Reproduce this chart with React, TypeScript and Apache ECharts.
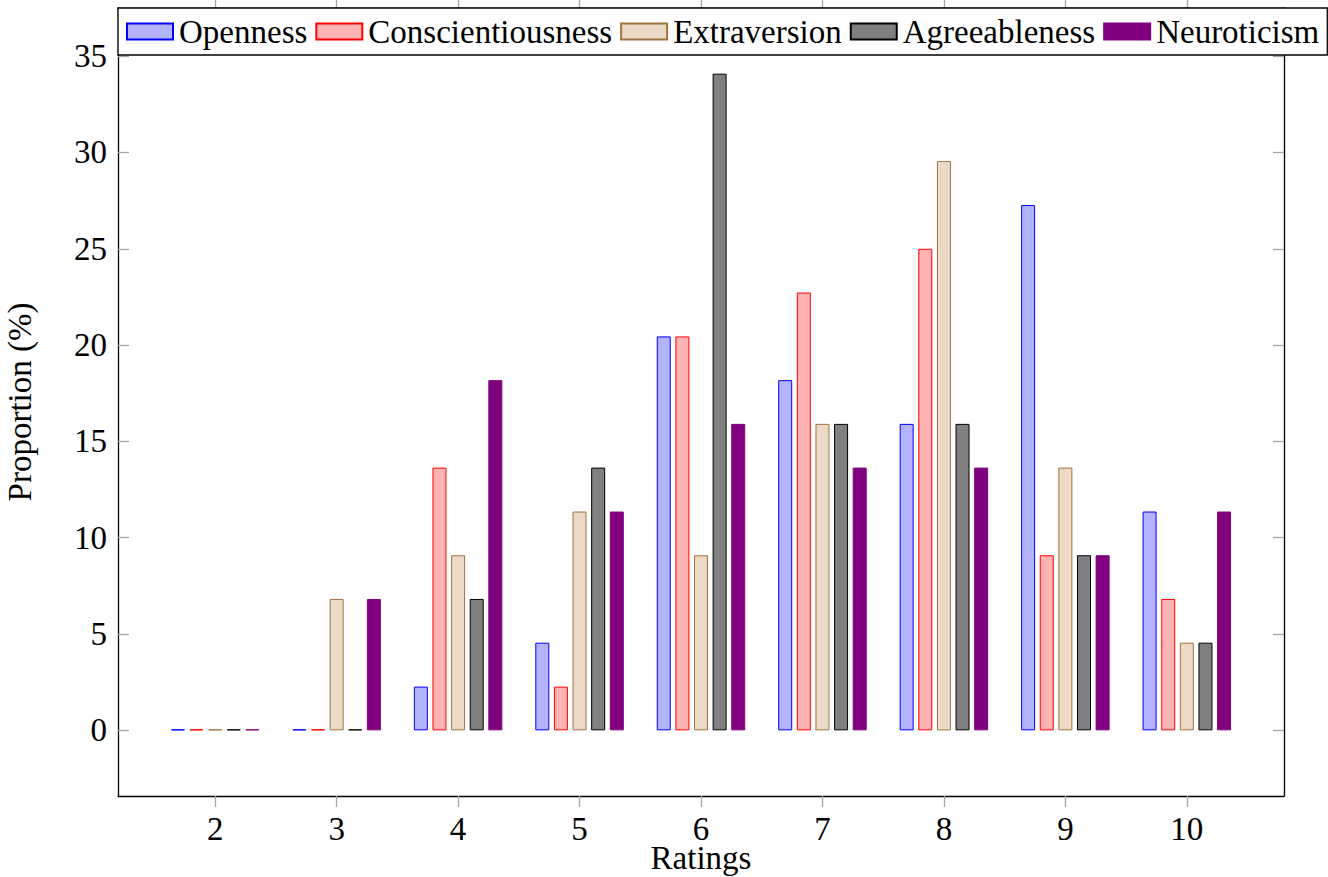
import React, { useEffect, useRef } from "react";
import * as echarts from "echarts";

const ratings = [2, 3, 4, 5, 6, 7, 8, 9, 10];
const yTicks = [0, 5, 10, 15, 20, 25, 30, 35];
const openness = [0, 0, 2.27, 4.55, 20.45, 18.18, 15.91, 27.27, 11.36];
const conscientiousness = [0, 0, 13.64, 2.27, 20.45, 22.73, 25.0, 9.09, 6.82];
const extraversion = [0, 6.82, 9.09, 11.36, 9.09, 15.91, 29.55, 13.64, 4.55];
const agreeableness = [0, 0, 6.82, 13.64, 34.09, 15.91, 15.91, 9.09, 4.55];
const neuroticism = [0, 6.82, 18.18, 11.36, 15.91, 13.64, 13.64, 9.09, 11.36];

const seriesDefs = [
  { name: "Openness", data: openness, fill: "#b3b3ff", stroke: "#0000ff" },
  { name: "Conscientiousness", data: conscientiousness, fill: "#ffb3b3", stroke: "#ff0000" },
  { name: "Extraversion", data: extraversion, fill: "#ecd9c6", stroke: "#a0743f" },
  { name: "Agreeableness", data: agreeableness, fill: "#808080", stroke: "#000000" },
  { name: "Neuroticism", data: neuroticism, fill: "#800080", stroke: "#800080" },
];

const FONT = "'Liberation Serif', 'Times New Roman', serif";
const FS = 33;

export default function App() {
  const ref = useRef<HTMLDivElement>(null);
  useEffect(() => {
    if (!ref.current) return;
    const chart = echarts.init(ref.current, null, { renderer: "svg" });
    const tickStyle = { color: "#a6a6a6", width: 1.3 };
    const axisLine = { show: true, onZero: false, lineStyle: { color: "#000", width: 1.3 } };
    chart.setOption({
      animation: false,
      backgroundColor: "#fff",
      textStyle: { fontFamily: FONT },
      grid: { left: 118, right: 44, top: 8, bottom: 81, containLabel: false, outerBoundsMode: "none" },
      legend: {
        left: 118,
        top: 8,
        padding: [7, 8, 7, 8],
        itemWidth: 46,
        itemHeight: 16,
        itemGap: 8,
        backgroundColor: "#fff",
        borderColor: "#000",
        borderWidth: 1.3,
        borderRadius: 0,
        z: 20,
        textStyle: { fontFamily: FONT, fontSize: FS, color: "#000", padding: [0, 0, 0, 1] },
        data: seriesDefs.map((s) => ({ name: s.name, icon: "rect" })),
      },
      xAxis: [
        {
          type: "value",
          min: 1.2,
          max: 10.8,
          position: "bottom",
          name: "Ratings",
          nameLocation: "middle",
          nameGap: 49,
          nameMoveOverlap: false,
          nameTextStyle: { fontFamily: FONT, fontSize: FS, color: "#000", lineHeight: 26 },
          axisLine,
          axisTick: { show: true, inside: false, length: 11, lineStyle: tickStyle, customValues: ratings },
          axisLabel: {
            show: true,
            fontFamily: FONT,
            fontSize: FS,
            color: "#000",
            lineHeight: 26,
            margin: 20,
            customValues: ratings,
          },
          splitLine: { show: false },
        },
        {
          type: "value",
          min: 1.2,
          max: 10.8,
          position: "top",
          axisLine,
          axisTick: { show: true, inside: false, length: 11, lineStyle: tickStyle, customValues: ratings },
          axisLabel: { show: false, customValues: ratings },
          splitLine: { show: false },
        },
      ],
      yAxis: [
        {
          type: "value",
          min: -3.409,
          max: 37.5,
          position: "left",
          name: "Proportion (%)",
          nameLocation: "middle",
          nameGap: 82,
          nameMoveOverlap: false,
          nameTextStyle: { fontFamily: FONT, fontSize: FS, color: "#000" },
          axisLine,
          axisTick: { show: true, inside: true, length: 11, lineStyle: tickStyle, customValues: yTicks },
          axisLabel: { show: true, fontFamily: FONT, fontSize: FS, color: "#000", margin: 11, customValues: yTicks },
          splitLine: { show: false },
        },
        {
          type: "value",
          min: -3.409,
          max: 37.5,
          position: "right",
          axisLine,
          axisTick: { show: true, inside: true, length: 11, lineStyle: tickStyle, customValues: yTicks },
          axisLabel: { show: false, customValues: yTicks },
          splitLine: { show: false },
        },
      ],
      series: seriesDefs.map((s) => ({
        name: s.name,
        type: "bar",
        xAxisIndex: 0,
        yAxisIndex: 0,
        barWidth: 14,
        barGap: "33%",
        barMinHeight: 1,
        data: ratings.map((r, i) => [r, s.data[i]]),
        itemStyle: { color: s.fill, borderColor: s.stroke, borderWidth: 1 },
      })),
    });
    return () => chart.dispose();
  }, []);
  return <div ref={ref} style={{ position: "fixed", left: 0, top: 0, width: 1328, height: 877 }} />;
}
